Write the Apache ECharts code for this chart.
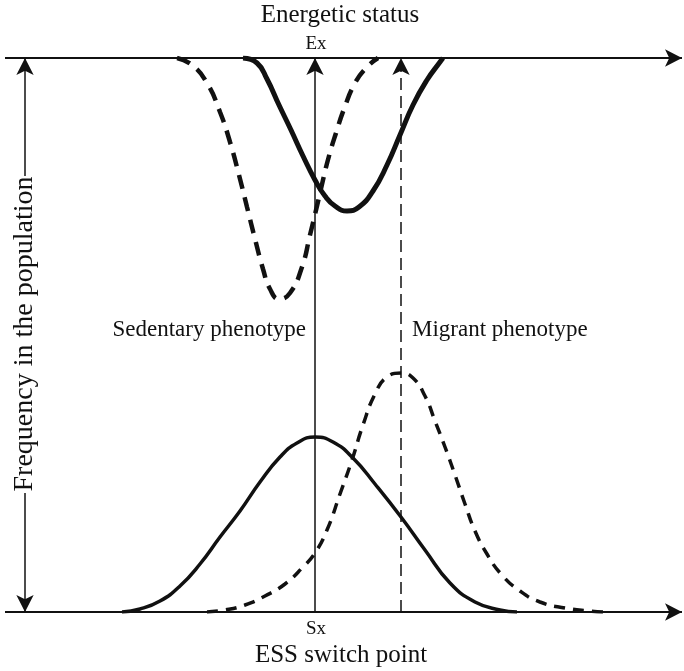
<!DOCTYPE html>
<html>
<head>
<meta charset="utf-8">
<script src="https://cdn.jsdelivr.net/npm/echarts@6/dist/echarts.min.js"></script>
<style>
  html, body { margin: 0; padding: 0; background: #fff; }
  #chart { width: 684px; height: 671px; }
</style>
</head>
<body>
<div id="chart"></div>
<script>
// x: offset from the switch point Sx, y: frequency (0 = bottom axis)
var sedentaryEnergy = [[-72,554],[-58,549],[-48,533],[-36,507],[-24,482],[-12,456],[0,432],[10,416],[20,406],[32,401],[44,405],[58,421],[72,447],[85,477],[98,507],[112,532],[125,550],[128,554]];
var migrantEnergy = [[-138,554],[-123,547],[-108,529],[-95,500],[-85,470],[-76,437],[-68,405],[-60,373],[-52,343],[-45,323],[-36,313],[-25,319],[-13,345],[-5,377],[2,406],[8,432],[14,456],[21,479],[29,503],[40,529],[52,545],[63,554]];
var sedentaryFreq = [[-193,0],[-175,3],[-155,11],[-135,26],[-115,48],[-95,75],[-75,101],[-55,130],[-35,155],[-18,169],[0,175],[18,170],[38,154],[60,128],[86,95],[110,62],[135,29],[160,10],[185,2],[202,0]];
var migrantFreq = [[-108,0],[-90,2],[-70,7],[-50,16],[-30,28],[-12,45],[0,59],[12,82],[25,118],[37,152],[48,187],[60,218],[72,235],[86,239],[98,234],[110,216],[120,191],[130,165],[140,137],[150,108],[160,81],[172,58],[186,38],[205,21],[225,10],[250,4],[275,1],[290,0]];

var switchPoint = 0;      // Sx / Ex
var migrantMode = 86;     // dashed reference line
var axisTop = 554;
var xMin = -315, xMax = 369;

var ink = "#111";
var serif = "'Liberation Serif', 'Times New Roman', serif";

var chart = echarts.init(document.getElementById("chart"));

function curve(name, data, width, dash) {
  return {
    name: name,
    type: "line",
    data: data,
    smooth: 0.5,
    showSymbol: false,
    silent: true,
    lineStyle: { color: ink, width: width, type: dash || "solid", cap: "butt" },
  };
}

function arrowLine(from, to, startSym, endSym, style) {
  return [
    { coord: from, symbol: startSym, symbolSize: [13, 17] },
    { coord: to, symbol: endSym, symbolSize: [13, 17], lineStyle: style },
  ];
}

var axisStyle = { color: ink, width: 2, type: "solid" };
var thinStyle = { color: ink, width: 1.5, type: "solid" };
var dashStyle = { color: ink, width: 1.5, type: [12, 6] };

function label(text, x, y, size, align, rot) {
  return {
    type: "text",
    x: x,
    y: y,
    rotation: rot || 0,
    style: {
      text: text,
      fill: ink,
      font: size + "px " + serif,
      textAlign: align || "center",
      textVerticalAlign: "middle",
    },
  };
}

chart.setOption({
  animation: false,
  grid: { left: 0, right: 0, top: 58, bottom: 59 },
  xAxis: { type: "value", min: xMin, max: xMax, show: false },
  yAxis: { type: "value", min: 0, max: axisTop, show: false },
  series: [
    curve("Sedentary energetic", sedentaryEnergy, 5),
    curve("Migrant energetic", migrantEnergy, 4.5, [14, 9]),
    curve("Sedentary phenotype", sedentaryFreq, 3.5),
    curve("Migrant phenotype", migrantFreq, 3.5, [11, 8]),
    {
      type: "line",
      data: [],
      clip: false,
      markLine: {
        silent: true,
        animation: false,
        label: { show: false },
        lineStyle: axisStyle,
        data: [
          arrowLine([xMin + 5, axisTop], [xMax - 2, axisTop], "none", "arrow", axisStyle),
          arrowLine([xMin + 5, 0], [xMax - 2, 0], "none", "arrow", axisStyle),
          arrowLine([switchPoint, 0], [switchPoint, axisTop], "none", "arrow", thinStyle),
          arrowLine([migrantMode, 0], [migrantMode, axisTop], "none", "arrow", dashStyle),
          arrowLine([xMin + 25, 436], [xMin + 25, axisTop], "none", "arrow", thinStyle),
          arrowLine([xMin + 25, 119], [xMin + 25, 0], "none", "arrow", thinStyle),
        ],
      },
    },
  ],
  graphic: [
    label("Energetic status", 340, 15, 25),
    label("Ex", 316, 44, 19),
    label("Sx", 316, 629, 19),
    label("ESS switch point", 341, 655, 25),
    label("Sedentary phenotype", 306, 330, 23, "right"),
    label("Migrant phenotype", 412, 330, 23, "left"),
    label("Frequency in the population", 25, 334, 28, "center", Math.PI / 2),
  ],
});
</script>
</body>
</html>
